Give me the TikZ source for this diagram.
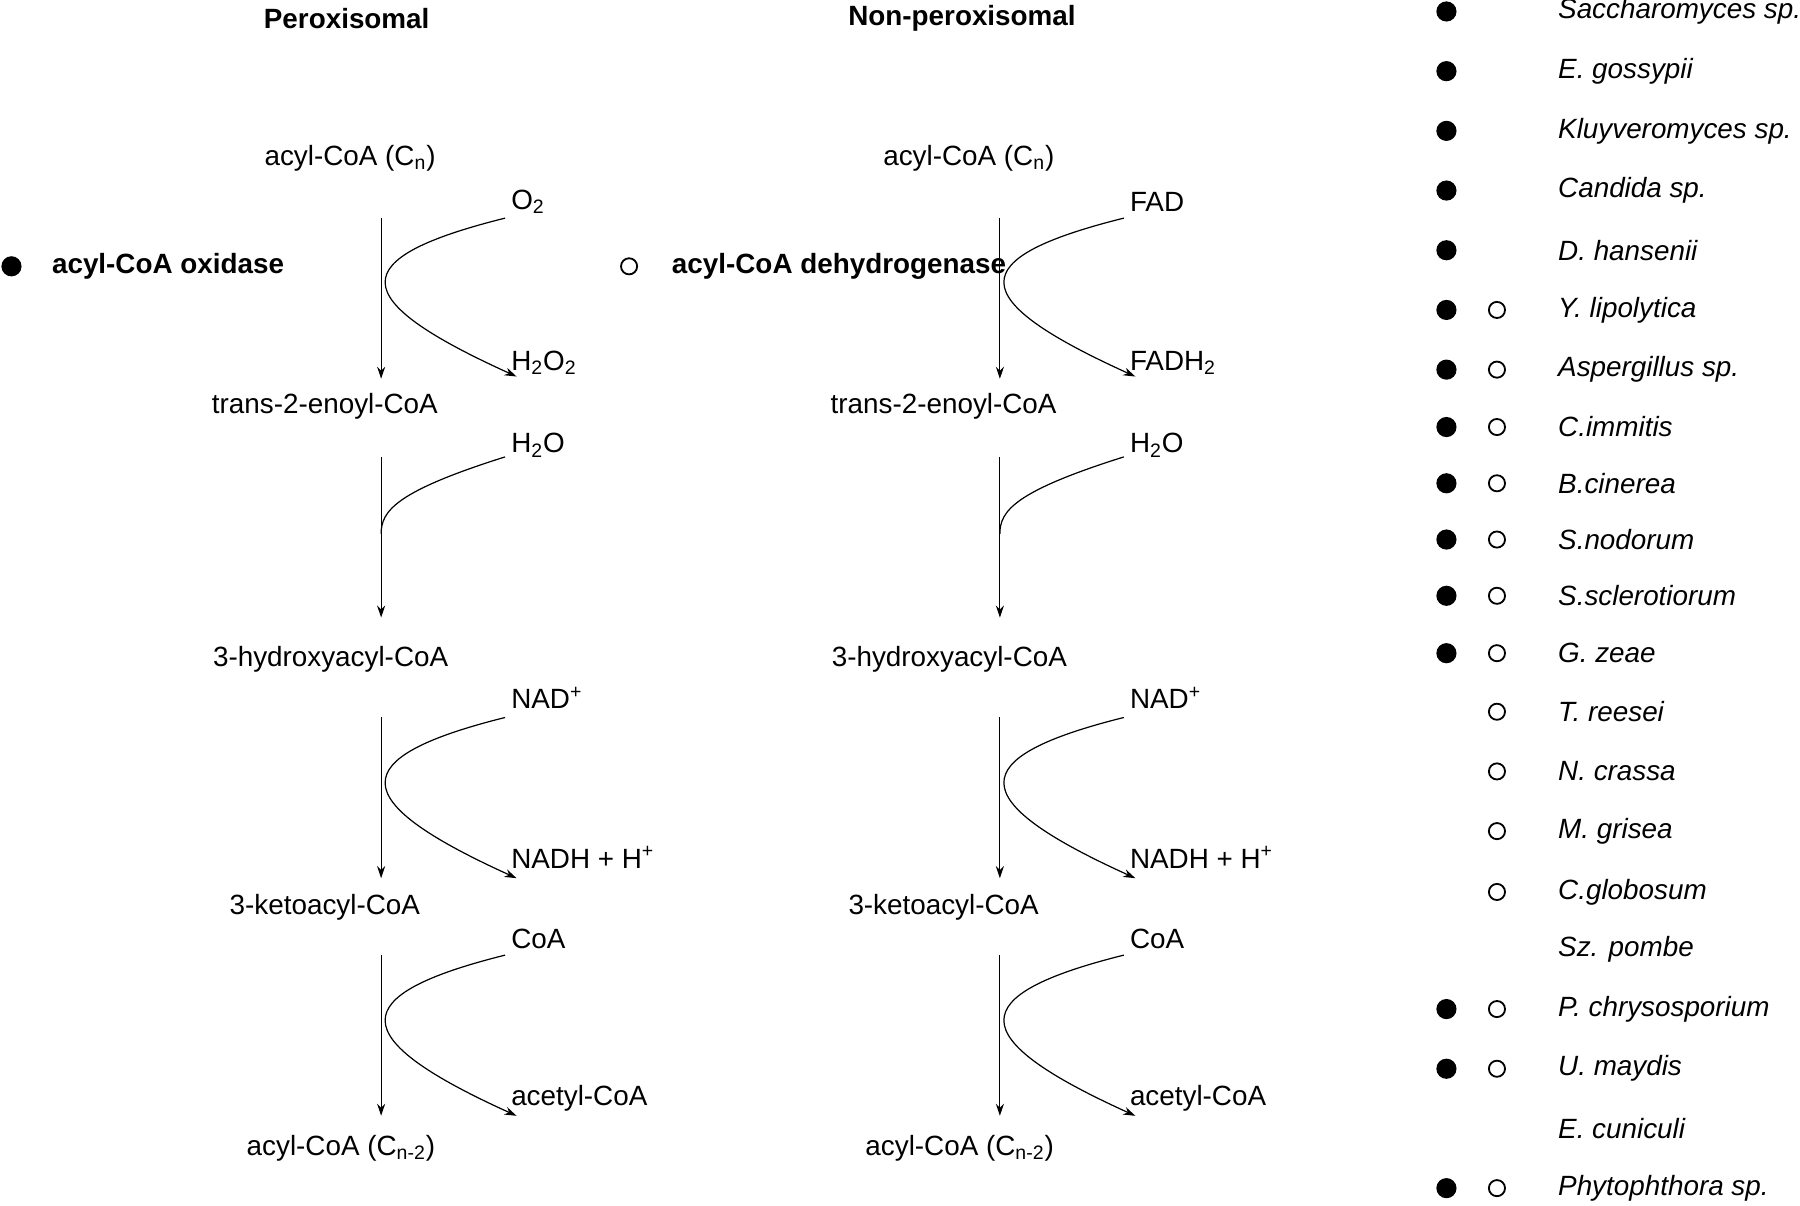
\documentclass[tikz,border=0pt]{standalone}
\usepackage{fontspec}
\setmainfont{Liberation Sans}
\usetikzlibrary{arrows.meta}
\begin{document}
\begin{tikzpicture}[x=0.02cm,y=-0.02cm,font=\fontsize{13.8}{15}\selectfont,
  lbl/.style={inner sep=0pt,anchor=west},
  ctr/.style={inner sep=0pt},
  arr/.style={-{Stealth[length=6pt,width=4pt]},line width=0.6pt},
  crv/.style={line width=0.6pt},
  fdot/.style={circle,fill=black,inner sep=0pt,minimum size=10pt},
  odot/.style={circle,draw=black,line width=0.9pt,inner sep=0pt,minimum size=8pt},
  sp/.style={inner sep=0pt,anchor=west,font=\fontsize{13.8}{15}\selectfont\itshape}]
\useasboundingbox (0,0) rectangle (1568,1050);
\node[ctr,font=\fontsize{13.8}{15}\selectfont\bfseries] (h1) at (302,16) {Peroxisomal};
\node[ctr,font=\fontsize{13.8}{15}\selectfont\bfseries] (h2) at (838,16) {Non-peroxisomal};
\node[fdot] (d1) at (10,232) {};
\node[lbl,font=\fontsize{13.8}{15}\selectfont\bfseries] (e1) at (45,232) {acyl-CoA oxidase};
\node[odot] (d2) at (548,232) {};
\node[lbl,font=\fontsize{13.8}{15}\selectfont\bfseries] (e2) at (585,232) {acyl-CoA dehydrogenase};
\foreach \o/\p/\a/\b/\c in {0/L/acyl-CoA (C\textsubscript{n})/O\textsubscript{2}/H\textsubscript{2}O\textsubscript{2},539/R/acyl-CoA (C\textsubscript{n})/FAD/FADH\textsubscript{2}}{
 \begin{scope}[xshift=\o*0.02cm]
 \node[ctr] (s1\p) at (305,138) {\a};
 \node[lbl] (in1\p) at (445,176) {\b};
 \node[lbl] (out1\p) at (445,316) {\c};
 \node[ctr] (s2\p) at (283,354) {trans-2-enoyl-CoA};
 \node[lbl] (in2\p) at (445,388) {H\textsubscript{2}O};
 \node[ctr] (s3\p) at (288,574) {3-hydroxyacyl-CoA};
 \node[lbl] (in3\p) at (445,608) {NAD\textsuperscript{+}};
 \node[lbl] (out3\p) at (445,747) {NADH + H\textsuperscript{+}};
 \node[ctr] (s4\p) at (283,790) {3-ketoacyl-CoA};
 \node[lbl] (in4\p) at (445,818) {CoA};
 \node[lbl] (out4\p) at (445,957) {acetyl-CoA};
 \node[ctr] (s5\p) at (297,1000) {acyl-CoA (C\textsubscript{n-2})};
 \coordinate (a1\p) at (332,190); \coordinate (b1\p) at (332,330);
 \coordinate (a2\p) at (332,398); \coordinate (b2\p) at (332,538);
 \coordinate (a3\p) at (332,625); \coordinate (b3\p) at (332,765);
 \coordinate (a4\p) at (332,832); \coordinate (b4\p) at (332,972);
 \draw[arr] (a1\p) -- (b1\p);
 \draw[arr] (a2\p) -- (b2\p);
 \draw[arr] (a3\p) -- (b3\p);
 \draw[arr] (a4\p) -- (b4\p);
 \coordinate (c1\p) at (440,190); \coordinate (t1\p) at (450,328);
 \coordinate (c2\p) at (440,398); \coordinate (t2\p) at (332,465);
 \coordinate (c3\p) at (440,625); \coordinate (t3\p) at (450,765);
 \coordinate (c4\p) at (440,832); \coordinate (t4\p) at (450,972);
 \draw[arr] (c1\p) .. controls (300,225) and (300,260) .. (t1\p);
 \draw[crv] (c2\p) .. controls (345,428) and (332,445) .. (t2\p);
 \draw[arr] (c3\p) .. controls (300,660) and (300,697) .. (t3\p);
 \draw[arr] (c4\p) .. controls (300,867) and (300,904) .. (t4\p);
 \end{scope}}
\foreach \n/\y/\f/\o/\t in {
 1/10/1/0/Saccharomyces sp.,2/62/1/0/E. gossypii,3/114/1/0/Kluyveromyces sp.,
 4/166/1/0/Candida sp.,5/218/1/0/D. hansenii,6/270/1/1/Y. lipolytica,
 7/322/1/1/Aspergillus sp.,8/372/1/1/C.immitis,9/421/1/1/B.cinerea,
 10/470/1/1/S.nodorum,11/519/1/1/S.sclerotiorum,12/569/1/1/G. zeae,
 13/620/0/1/T. reesei,14/672/0/1/N. crassa,15/724/0/1/M. grisea,
 16/777/0/1/C.globosum,17/827/0/0/Sz. pombe,18/879/1/1/P. chrysosporium,
 19/931/1/1/U. maydis,20/983/0/0/E. cuniculi,21/1035/1/1/Phytophthora sp.}{
 \node[sp] (sp\n) at (1357,\y) {\t};
 \ifnum\f=1 \node[fdot] (f\n) at (1260,\y) {};\fi
 \ifnum\o=1 \node[odot] (o\n) at (1304,\y) {};\fi
}
\end{tikzpicture}
\end{document}
